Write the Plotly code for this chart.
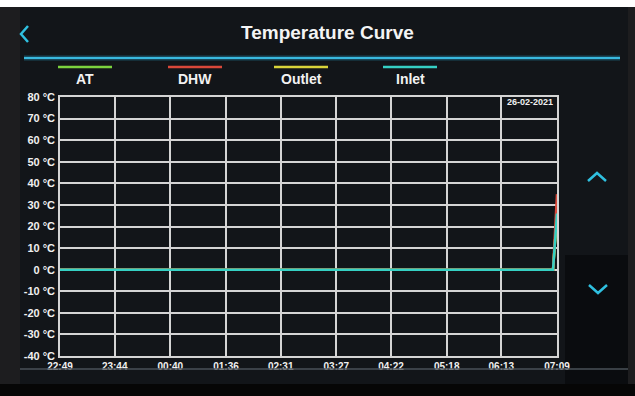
import plotly.graph_objects as go

# Sample timestamps (one reading per axis tick plus the final two readings)
times = [
    "2021-02-25 22:49", "2021-02-25 23:44", "2021-02-26 00:40", "2021-02-26 01:36",
    "2021-02-26 02:31", "2021-02-26 03:27", "2021-02-26 04:22", "2021-02-26 05:18",
    "2021-02-26 06:13", "2021-02-26 07:05", "2021-02-26 07:09",
]
at_temp = [0, 0, 0, 0, 0, 0, 0, 0, 0, 0, 26]
dhw_temp = [0, 0, 0, 0, 0, 0, 0, 0, 0, 0, 35]
outlet_temp = [0, 0, 0, 0, 0, 0, 0, 0, 0, 0, 26]
inlet_temp = [0, 0, 0, 0, 0, 0, 0, 0, 0, 0, 26]

tick_times = [
    "2021-02-25 22:49", "2021-02-25 23:44", "2021-02-26 00:40", "2021-02-26 01:36",
    "2021-02-26 02:31", "2021-02-26 03:27", "2021-02-26 04:22", "2021-02-26 05:18",
    "2021-02-26 06:13", "2021-02-26 07:09",
]
tick_labels = ["22:49", "23:44", "00:40", "01:36", "02:31", "03:27", "04:22", "05:18", "06:13", "07:09"]
y_ticks = [80, 70, 60, 50, 40, 30, 20, 10, 0, -10, -20, -30, -40]

series_names = ["AT", "DHW", "Outlet", "Inlet"]
series_colors = {"AT": "#7bd23e", "DHW": "#d9483a", "Outlet": "#d8d43a", "Inlet": "#35d0c4"}
series_values = {"AT": at_temp, "DHW": dhw_temp, "Outlet": outlet_temp, "Inlet": inlet_temp}

W, H = 635, 396
L, R, T, B = 60, 78, 97, 40
PW, PH = W - L - R, H - T - B


def px(x):
    return (x - L) / PW


def py(y):
    return (H - B - y) / PH


fig = go.Figure()
for name in ["AT", "Outlet", "DHW", "Inlet"]:
    fig.add_trace(go.Scatter(
        x=times, y=series_values[name], mode="lines", name=name,
        line=dict(color=series_colors[name], width=2.5), showlegend=False,
    ))

font_main = "Liberation Sans, Arial, sans-serif"
shapes = []
annotations = []

# screen bezel and panel backgrounds
shapes.append(dict(type="rect", xref="paper", yref="paper", x0=px(0), x1=px(W), y0=py(0), y1=py(H),
                   fillcolor="#1d1d1f", line_width=0, layer="below"))
shapes.append(dict(type="rect", xref="paper", yref="paper", x0=px(20), x1=px(628), y0=py(7), y1=py(384),
                   fillcolor="#121519", line_width=0, layer="below"))
shapes.append(dict(type="rect", xref="paper", yref="paper", x0=px(565), x1=px(628), y0=py(255), y1=py(384),
                   fillcolor="#0a0c0f", line_width=0, layer="below"))
shapes.append(dict(type="rect", xref="paper", yref="paper", x0=px(0), x1=px(W), y0=py(0), y1=py(7),
                   fillcolor="#ffffff", line_width=0, layer="below"))
shapes.append(dict(type="rect", xref="paper", yref="paper", x0=px(0), x1=px(W), y0=py(384), y1=py(H),
                   fillcolor="#060606", line_width=0, layer="below"))
shapes.append(dict(type="line", xref="paper", yref="paper", x0=px(20), x1=px(628), y0=py(369), y1=py(369),
                   line=dict(color="#4a5058", width=1.5)))

# glowing divider under the title
shapes.append(dict(type="line", xref="paper", yref="paper", x0=px(24), x1=px(620), y0=py(58), y1=py(58),
                   line=dict(color="rgba(40,170,210,0.35)", width=5)))
shapes.append(dict(type="line", xref="paper", yref="paper", x0=px(24), x1=px(620), y0=py(58), y1=py(58),
                   line=dict(color="#39b8de", width=2)))

# back arrow and scroll arrows
cyan = "#2fc0e0"
shapes.append(dict(type="path", xref="paper", yref="paper",
                   path=f"M {px(28)},{py(26)} L {px(21)},{py(34)} L {px(28)},{py(42)}",
                   line=dict(color=cyan, width=2.5)))
shapes.append(dict(type="path", xref="paper", yref="paper",
                   path=f"M {px(588)},{py(181)} L {px(597)},{py(173)} L {px(606)},{py(181)}",
                   line=dict(color=cyan, width=2.5)))
shapes.append(dict(type="path", xref="paper", yref="paper",
                   path=f"M {px(589)},{py(285)} L {px(598)},{py(293)} L {px(607)},{py(285)}",
                   line=dict(color=cyan, width=2.5)))

# custom legend: coloured bar above each label
legend_x = {"AT": 85, "DHW": 195, "Outlet": 301, "Inlet": 410}
for name in series_names:
    cx = legend_x[name]
    shapes.append(dict(type="line", xref="paper", yref="paper", x0=px(cx - 27), x1=px(cx + 27),
                       y0=py(67), y1=py(67), line=dict(color=series_colors[name], width=2.5)))
    annotations.append(dict(text=f"<b>{name}</b>", xref="paper", yref="paper", x=px(cx), y=py(79),
                            xanchor="center", yanchor="middle", showarrow=False,
                            font=dict(family=font_main, size=14, color="#f2f2f2")))

annotations.append(dict(text="<b>Temperature Curve</b>", xref="paper", yref="paper", x=px(327), y=py(32),
                        xanchor="center", yanchor="middle", showarrow=False,
                        font=dict(family=font_main, size=19, color="#f4f4f4")))
annotations.append(dict(text="<b>26-02-2021</b>", xref="paper", yref="paper", x=px(555), y=py(102),
                        xanchor="right", yanchor="middle", showarrow=False,
                        font=dict(family=font_main, size=9, color="#f0f0f0")))

grid_col = "#d4d4d4"
fig.update_layout(
    width=W, height=H,
    margin=dict(l=L, r=R, t=T, b=B),
    paper_bgcolor="#1d1d1f",
    plot_bgcolor="#050608",
    shapes=shapes,
    annotations=annotations,
    xaxis=dict(
        type="date", range=[tick_times[0], tick_times[-1]],
        tickvals=tick_times, ticktext=[f"<b>{t}</b>" for t in tick_labels],
        showgrid=True, gridcolor=grid_col, gridwidth=1.5,
        showline=True, linecolor=grid_col, linewidth=1.5, mirror=True,
        ticks="", zeroline=False, tickangle=0,
        tickfont=dict(family=font_main, size=10, color="#f0f0f0"),
    ),
    yaxis=dict(
        range=[-40, 80], tickvals=y_ticks, ticktext=[f"<b>{v} °C</b>" for v in y_ticks],
        showgrid=True, gridcolor=grid_col, gridwidth=1.5,
        showline=True, linecolor=grid_col, linewidth=1.5, mirror=True,
        ticks="", zeroline=False, ticklabelstandoff=1,
        tickfont=dict(family=font_main, size=11, color="#f0f0f0"),
    ),
)

fig.write_html("out.html")
